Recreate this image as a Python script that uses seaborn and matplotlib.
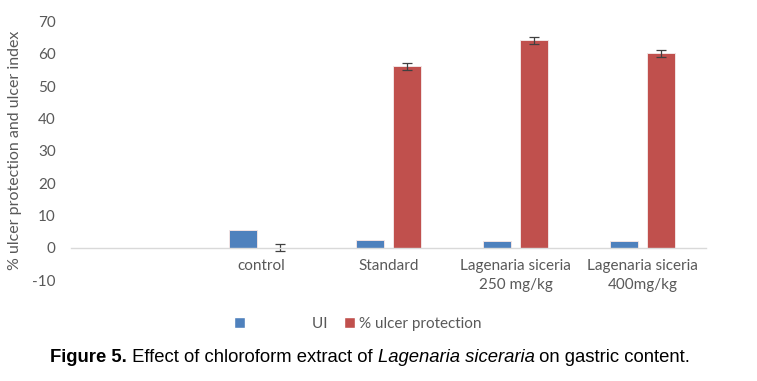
"""
Figure 5: ulcer index and % ulcer protection, grouped bars with error bars
"""

import pandas as pd
import matplotlib.pyplot as plt
import seaborn as sns
from matplotlib.patches import Patch

sns.set_style("white")

# data
groups = ['control', 'Standard', 'Lagenaria siceria\n250 mg/kg', 'Lagenaria siceria\n400mg/kg']
ui = [5.5, 2.4, 2.0, 2.2]
protection = [0.0, 56.1, 64.2, 60.1]
protection_err = [1.1, 1.0, 1.1, 1.0]

BLUE = '#4f81bd'
RED = '#c0504d'
TEXT = '#595959'
CHART_FONT = ['Lato', 'DejaVu Sans']
CAPTION_FONT = ['Liberation Sans', 'DejaVu Sans']

plt.rcParams['font.family'] = CHART_FONT
plt.rcParams['axes.unicode_minus'] = False

df = pd.DataFrame({
    'group': groups * 2,
    'series': ['UI'] * len(groups) + ['% ulcer protection'] * len(groups),
    'value': ui + protection,
})

fig = plt.figure(figsize=(7.57, 3.81), dpi=100)
ax = fig.add_axes([71 / 757, 1 - 280 / 381, 635 / 757, 258.5 / 381])

sns.barplot(data=df, x='group', y='value', hue='series', order=groups,
            hue_order=['UI', '% ulcer protection'], palette=[BLUE, RED],
            saturation=1, width=0.583, gap=0.218, edgecolor='#f2e4e4',
            linewidth=0.7, legend=False, ax=ax)

# error bars on the red bars, positioned from the drawn patches
red_bars = sorted(ax.containers[1].patches, key=lambda p: p.get_x())
xs = [p.get_x() + p.get_width() / 2 for p in red_bars]
ax.errorbar(xs, protection, yerr=protection_err, fmt='none',
            ecolor='#404040', elinewidth=0.9, capsize=3.5, capthick=0.9)

# the original keeps an empty category slot on the left
ax.set_xlim(-1.5, len(groups) - 0.5)
ax.set_ylim(-10, 70)
ax.set_yticks(range(-10, 80, 10))
ax.set_xlabel('')
ax.set_ylabel('% ulcer protection and ulcer index', fontsize=11.5,
              color=TEXT, labelpad=7)
for s in ['left', 'right', 'top']:
    ax.spines[s].set_visible(False)
ax.spines['bottom'].set_position(('data', 0))
ax.spines['bottom'].set_color('#d9d9d9')
ax.spines['bottom'].set_linewidth(1)
ax.tick_params(axis='both', length=0, labelsize=11, labelcolor=TEXT)
ax.tick_params(axis='x', pad=8)
ax.tick_params(axis='y', pad=11)
for lab in ax.get_xticklabels():
    lab.set_linespacing(1.5)

handles = [Patch(facecolor=BLUE), Patch(facecolor=RED)]
fig.legend(handles, [' ' * 16 + 'UI', '% ulcer protection'],
           loc='center', bbox_to_anchor=(358 / 757, 1 - 324 / 381), ncol=2,
           frameon=False, handlelength=0.7, handleheight=0.7,
           handletextpad=0.3, columnspacing=1.1,
           prop={'family': CHART_FONT, 'size': 11}, labelcolor=TEXT)

# caption with mixed bold / italic pieces placed one after another
pieces = [('Figure 5.', 'bold', 'normal'),
          (' Effect of chloroform extract of ', 'normal', 'normal'),
          ('Lagenaria siceraria', 'normal', 'italic'),
          (' on gastric content.', 'normal', 'normal')]
renderer = fig.canvas.get_renderer()
x = 50
for txt, weight, style in pieces:
    t = fig.text(x / 757, 1 - 357 / 381, txt, fontsize=13.3, color='black',
                 family=CAPTION_FONT, fontweight=weight, fontstyle=style,
                 va='center', ha='left')
    x += t.get_window_extent(renderer).width

fig.savefig('out.png', dpi=100, facecolor='white')
